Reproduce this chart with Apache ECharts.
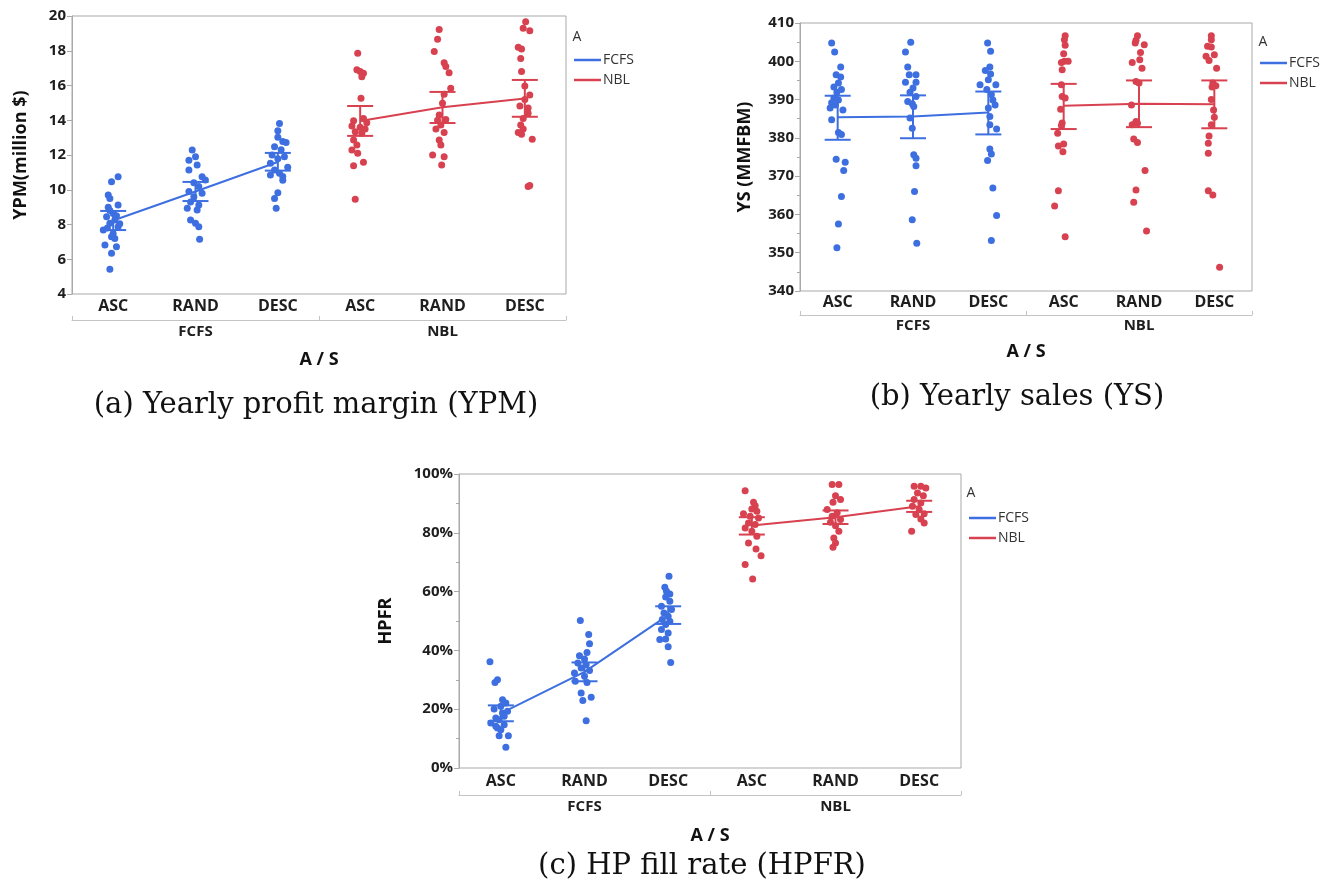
<!DOCTYPE html>
<html>
<head>
<meta charset="utf-8">
<script src="https://cdn.jsdelivr.net/npm/echarts@6/dist/echarts.min.js"></script>
<style>
  html, body { margin: 0; padding: 0; background: #fff; }
  #chart { width: 1332px; height: 891px; }
</style>
</head>
<body>
<div id="chart"></div>
<script>
var cats = ['ASC', 'RAND', 'DESC', 'ASC', 'RAND', 'DESC'];
var groups = ['FCFS', 'NBL'];

// each dot: [horizontal jitter in category units, value]
var ypmPts = [
  [[0.06,10.75],[-0.02,10.46],[-0.06,9.7],[-0.04,9.5],[0.06,9.12],[0,8.64],[-0.08,8.45],[0.02,8.26],[-0.04,8.07],[0.06,7.87],[-0.12,7.68],[0,7.48],[-0.02,7.3],[0.02,7.2],[-0.1,6.82],[0.04,6.72],[-0.02,6.34],[-0.04,5.42],[-0.06,9.0],[0.08,8.05],[-0.04,8.8],[0.04,8.5],[-0.07,7.8]],
  [[-0.04,12.29],[0,11.9],[-0.08,11.7],[0.02,11.42],[-0.08,11.14],[0.08,10.75],[0.12,10.56],[-0.02,10.4],[0.04,10.18],[-0.08,9.9],[0.08,9.8],[-0.02,9.6],[-0.06,9.3],[0.04,9.12],[-0.1,8.93],[0.02,8.83],[-0.06,8.26],[0,8.07],[0.04,7.87],[0.05,7.15]],
  [[0.02,13.82],[0,13.4],[0,13.02],[0.06,12.77],[0.1,12.72],[-0.04,12.48],[0.04,12.3],[-0.07,12.0],[0.08,11.9],[0,11.78],[-0.09,11.52],[0.12,11.3],[-0.04,11.14],[0.02,10.95],[-0.09,10.85],[0.06,10.76],[0.06,10.55],[0,9.83],[-0.04,9.5],[-0.02,8.93]],
  [[-0.03,17.85],[-0.04,16.9],[0,16.8],[0.04,16.7],[0.02,16.5],[0.01,15.26],[0.04,14.1],[-0.08,13.97],[0.08,13.85],[-0.1,13.67],[0,13.6],[0.06,13.5],[-0.06,13.34],[0.02,13.25],[-0.08,12.86],[-0.04,12.58],[-0.1,12.29],[-0.03,12.1],[-0.08,11.38],[0.04,11.58],[-0.06,9.45]],
  [[-0.04,19.23],[-0.06,18.66],[-0.1,17.95],[0.02,17.31],[0.04,17.1],[0.08,16.74],[0.1,15.84],[0.02,15.5],[0,14.98],[-0.04,14.3],[-0.06,14.0],[0.04,14.05],[-0.02,13.73],[-0.08,13.5],[0.02,13.3],[-0.04,12.86],[-0.02,12.58],[-0.12,12.0],[0.02,11.9],[-0.01,11.42]],
  [[0.01,19.67],[-0.02,19.29],[0.06,19.15],[-0.08,18.2],[-0.04,18.1],[-0.05,17.56],[-0.04,16.8],[0,15.97],[0.06,15.45],[0,15.2],[-0.06,14.82],[0.04,14.7],[0.04,14.4],[-0.02,14.1],[-0.05,13.73],[-0.02,13.5],[-0.08,13.3],[-0.04,13.2],[0.09,12.9],[0.04,10.18],[0.06,10.25]]
];
var ypmMean = [8.23, 9.9, 11.6, 13.96, 14.75, 15.25];
var ypmLo = [7.68, 9.35, 11.1, 13.1, 13.84, 14.2];
var ypmHi = [8.78, 10.45, 12.12, 14.82, 15.63, 16.32];

var ysPts = [
  [[-0.08,404.8],[-0.04,402.4],[0.04,398.5],[-0.02,396.5],[0.04,395.9],[0.01,394.3],[-0.05,393.3],[0.05,392.6],[-0.01,391.9],[-0.05,390.4],[0.01,389.9],[-0.08,389.2],[-0.03,388.6],[-0.1,387.8],[0.07,387.3],[-0.08,384.7],[0.01,381.4],[0.05,380.9],[-0.02,374.4],[0.1,373.6],[0.08,371.5],[0.05,364.7],[0.01,357.5],[-0.01,351.3]],
  [[-0.03,405.0],[-0.1,402.4],[-0.07,398.5],[-0.05,396.5],[0.04,396.5],[-0.1,394.5],[0.04,394.5],[0,393.0],[-0.04,391.9],[0.04,390.8],[-0.07,389.5],[-0.01,388.9],[0.01,388.2],[-0.04,385.2],[-0.01,382.5],[0.01,375.6],[0.04,374.7],[0.04,372.7],[0.02,366.0],[-0.01,358.6],[0.05,352.5]],
  [[-0.01,404.8],[0.03,402.6],[0.02,398.5],[-0.04,397.6],[0.03,396.7],[-0.11,393.9],[0,395.2],[0.1,393.9],[-0.02,392.6],[0.04,391.3],[0.06,389.9],[0.09,388.6],[0,387.8],[0.02,385.6],[0.02,383.4],[0.11,382.3],[0.02,377.1],[0.04,375.8],[-0.01,374.1],[0.06,366.9],[0.11,359.7],[0.04,353.2]],
  [[0.02,406.7],[0.01,405.6],[0.02,404.2],[0,402.0],[0.01,400.0],[-0.03,399.7],[0.06,400.0],[-0.02,397.8],[-0.03,393.9],[-0.02,390.8],[0.02,390.4],[-0.04,387.5],[-0.02,383.9],[-0.03,383.2],[-0.08,381.2],[-0.07,377.9],[0,378.4],[-0.01,376.4],[-0.07,366.2],[-0.12,362.2],[0.02,354.2]],
  [[-0.02,406.7],[-0.04,405.5],[0.07,404.3],[-0.05,404.8],[0.02,402.3],[0.01,400.4],[-0.09,399.7],[0.04,398.2],[-0.04,394.7],[0,394.3],[-0.1,388.6],[-0.04,384.3],[-0.09,383.4],[-0.02,383.8],[-0.07,379.7],[-0.02,378.8],[0.08,371.5],[-0.04,366.4],[-0.07,363.2],[0.1,355.7]],
  [[-0.04,406.7],[-0.04,405.6],[-0.09,403.9],[-0.04,403.7],[0,401.7],[-0.11,401.3],[-0.07,400.2],[0.03,398.2],[-0.02,394.3],[0.02,393.6],[-0.03,393.3],[-0.04,390.0],[-0.01,387.3],[0,385.4],[-0.04,383.4],[-0.07,380.5],[-0.08,378.6],[-0.08,376.0],[-0.08,366.2],[-0.02,365.1],[0.07,346.2]]
];
var ysMean = [385.4, 385.6, 386.6, 388.4, 388.9, 388.8];
var ysLo = [379.5, 379.9, 380.9, 382.3, 382.8, 382.5];
var ysHi = [391.0, 391.1, 392.1, 394.1, 395.0, 395.0];

var hpfrPts = [
  [[-0.13,36.1],[-0.04,30.0],[-0.07,29.1],[0.02,23.2],[0.06,22.1],[0,21.0],[-0.08,20.1],[0.08,19.3],[0.02,18.7],[-0.06,17.0],[-0.02,16.4],[-0.12,15.3],[0.04,14.7],[-0.06,14.2],[0,13.0],[-0.02,11.0],[0.09,11.0],[0.06,7.1],[-0.04,13.6],[0.04,17.6]],
  [[-0.05,50.2],[0.05,45.4],[0.06,42.3],[0.03,39.3],[-0.06,38.2],[0,37.1],[-0.08,35.7],[0.02,35.1],[-0.04,34.0],[0.06,33.2],[-0.12,32.3],[0,31.2],[-0.11,29.5],[0.03,29.1],[-0.04,25.5],[0.08,24.1],[-0.02,23.0],[0.02,16.1]],
  [[0.01,65.2],[-0.04,61.5],[-0.02,60.1],[0.02,59.2],[-0.03,58.2],[0.02,56.7],[-0.08,55.0],[0.04,53.9],[-0.05,52.7],[0,51.6],[-0.07,50.5],[0.02,49.9],[-0.03,48.8],[-0.08,47.1],[0,45.9],[-0.1,43.7],[-0.03,43.9],[0,41.2],[0.03,35.9]],
  [[-0.08,94.3],[0.02,90.4],[0.04,89.2],[0,88.1],[0.06,87.3],[-0.1,86.5],[-0.02,85.6],[0.08,85.0],[-0.04,83.3],[0.04,82.8],[-0.08,81.6],[0,80.5],[0.06,78.8],[-0.04,76.5],[0.05,74.5],[0.11,72.2],[-0.08,69.2],[0.01,64.3]],
  [[-0.04,96.4],[0.04,96.4],[0,92.6],[0.06,91.3],[-0.03,90.4],[-0.1,87.9],[0.02,86.8],[-0.04,85.6],[0.06,84.5],[-0.06,83.6],[0,82.4],[0.04,80.5],[-0.02,78.2],[0,76.5],[-0.03,75.1]],
  [[-0.06,95.8],[0.02,95.8],[0.08,95.2],[-0.02,93.5],[0.05,92.6],[-0.06,91.3],[0.02,90.1],[-0.08,89.0],[0,87.9],[0.06,86.5],[-0.04,86.2],[0.02,84.7],[0.06,83.3],[-0.09,80.5]]
];
var hpfrMean = [18.6, 32.7, 52.0, 82.5, 85.3, 89.0];
var hpfrLo = [15.9, 29.5, 49.0, 79.4, 83.0, 87.1];
var hpfrHi = [21.3, 35.9, 55.0, 85.3, 87.6, 90.9];

var BLUE = '#3d6fe0';
var RED = '#d8414f';
var FRAME = '#a9a9a9';
var SANS = '"Open Sans", "DejaVu Sans", sans-serif';
var SERIF = '"DejaVu Serif", serif';

var panels = [
  {pts: ypmPts, mean: ypmMean, lo: ypmLo, hi: ypmHi, yName: 'YPM(million $)',
   y: {min: 4, max: 20, interval: 2, minor: false, fmt: '{value}'}, yGap: 42,
   grid: {left: 72, top: 16, width: 494, height: 278},
   catMargin: 4, grpOffset: 26, grpMargin: 4, asGap: 31,
   legend: {left: 574, top: 53}, a: [577, 37],
   caption: ['(a) Yearly profit margin (YPM)', 316, 405]},
  {pts: ysPts, mean: ysMean, lo: ysLo, hi: ysHi, yName: 'YS (MMFBM)',
   y: {min: 340, max: 410, interval: 10, minor: true, fmt: '{value}'}, yGap: 46,
   grid: {left: 800, top: 23, width: 452, height: 268},
   catMargin: 3, grpOffset: 24, grpMargin: 3, asGap: 28,
   legend: {left: 1260, top: 56}, a: [1263, 42],
   caption: ['(b) Yearly sales (YS)', 1017, 397]},
  {pts: hpfrPts, mean: hpfrMean, lo: hpfrLo, hi: hpfrHi, yName: 'HPFR',
   y: {min: 0, max: 100, interval: 20, minor: true, fmt: '{value}%'}, yGap: 64,
   grid: {left: 459, top: 474, width: 502, height: 294},
   catMargin: 5, grpOffset: 27, grpMargin: 4, asGap: 32,
   legend: {left: 969, top: 511}, a: [971, 493],
   caption: ['(c) HP fill rate (HPFR)', 702, 866]}
];

function errBar(params, api) {
  var x = api.value(0);
  var a = api.coord([x, api.value(1)]);
  var b = api.coord([x, api.value(2)]);
  var hw = 13;
  var st = {stroke: api.visual('color'), lineWidth: 2};
  return {type: 'group', children: [
    {type: 'line', shape: {x1: a[0], y1: a[1], x2: b[0], y2: b[1]}, style: st},
    {type: 'line', shape: {x1: a[0] - hw, y1: a[1], x2: a[0] + hw, y2: a[1]}, style: st},
    {type: 'line', shape: {x1: b[0] - hw, y1: b[1], x2: b[0] + hw, y2: b[1]}, style: st}
  ]};
}

var grid = [], xAxis = [], yAxis = [], series = [], legend = [], graphic = [];

panels.forEach(function (p, g) {
  grid.push(Object.assign({show: true, borderColor: FRAME, borderWidth: 1, backgroundColor: '#fff'}, p.grid));

  // hidden value axis that carries the jittered dots
  xAxis.push({type: 'value', gridIndex: g, min: -0.5, max: 5.5, show: false});
  // level labels
  xAxis.push({type: 'category', gridIndex: g, data: cats, position: 'bottom',
    axisLine: {show: false}, axisTick: {show: false},
    axisLabel: {margin: p.catMargin, fontFamily: SANS, fontWeight: 'bold', fontSize: 16, color: '#1e1e1e', interval: 0}});
  // group bracket
  xAxis.push({type: 'category', gridIndex: g, data: groups, position: 'bottom', offset: p.grpOffset,
    axisLine: {show: true, lineStyle: {color: '#c4c4c4', width: 1}},
    axisTick: {show: true, inside: true, length: 4, lineStyle: {color: '#c4c4c4'}},
    axisLabel: {margin: p.grpMargin, fontFamily: SANS, fontWeight: 'bold', fontSize: 15, color: '#1e1e1e'},
    name: 'A / S', nameLocation: 'middle', nameGap: p.asGap,
    nameTextStyle: {fontFamily: SANS, fontWeight: 'bold', fontSize: 18, color: '#111'}});

  yAxis.push({type: 'value', gridIndex: g, min: p.y.min, max: p.y.max, interval: p.y.interval,
    name: p.yName, nameLocation: 'middle', nameGap: p.yGap,
    nameTextStyle: {fontFamily: SANS, fontWeight: 'bold', fontSize: 18, color: '#111'},
    axisLine: {show: true, onZero: false, lineStyle: {color: FRAME}},
    axisTick: {show: true, length: 5, lineStyle: {color: FRAME}},
    minorTick: {show: p.y.minor, splitNumber: 2, length: 3, lineStyle: {color: FRAME}},
    splitLine: {show: false},
    axisLabel: {formatter: p.y.fmt, margin: 6, fontFamily: SANS, fontWeight: 'bold', fontSize: 15, color: '#1e1e1e'}});

  [0, 1].forEach(function (k) {
    var color = k === 0 ? BLUE : RED;
    var dots = [], means = [], bars = [];
    for (var c = k * 3; c < k * 3 + 3; c++) {
      p.pts[c].forEach(function (d) { dots.push([c + d[0], d[1]]); });
      means.push([c, p.mean[c]]);
      bars.push([c, p.lo[c], p.hi[c]]);
    }
    series.push({type: 'scatter', name: groups[k], xAxisIndex: g * 3, yAxisIndex: g,
      data: dots, symbolSize: 7, itemStyle: {color: color, opacity: 1}, z: 2, silent: true});
    series.push({type: 'custom', name: groups[k], xAxisIndex: g * 3, yAxisIndex: g,
      data: bars, renderItem: errBar, itemStyle: {color: color}, z: 3, silent: true,
      encode: {x: 0, y: [1, 2]}});
    series.push({type: 'line', name: groups[k], xAxisIndex: g * 3, yAxisIndex: g,
      data: means, showSymbol: false, lineStyle: {color: color, width: 2}, itemStyle: {color: color}, z: 4, silent: true});
  });

  legend.push({orient: 'vertical', left: p.legend.left, top: p.legend.top, padding: 0, itemGap: 6,
    data: groups, icon: 'rect', itemWidth: 27, itemHeight: 2.5, selectedMode: false,
    textStyle: {fontFamily: SANS, fontSize: 14, color: '#333', padding: [0, 0, 0, -3]}});

  graphic.push({type: 'text', x: p.a[0], y: p.a[1],
    style: {text: 'A', font: '14px ' + SANS, fill: '#333', align: 'center', verticalAlign: 'middle'}});
  graphic.push({type: 'text', x: p.caption[1], y: p.caption[2],
    style: {text: p.caption[0], font: '29px ' + SERIF, fill: '#111', align: 'center', verticalAlign: 'middle'}});
});

var chart = echarts.init(document.getElementById('chart'));
chart.setOption({
  animation: false,
  backgroundColor: '#fff',
  grid: grid,
  xAxis: xAxis,
  yAxis: yAxis,
  legend: legend,
  graphic: graphic,
  series: series
});
</script>
</body>
</html>
